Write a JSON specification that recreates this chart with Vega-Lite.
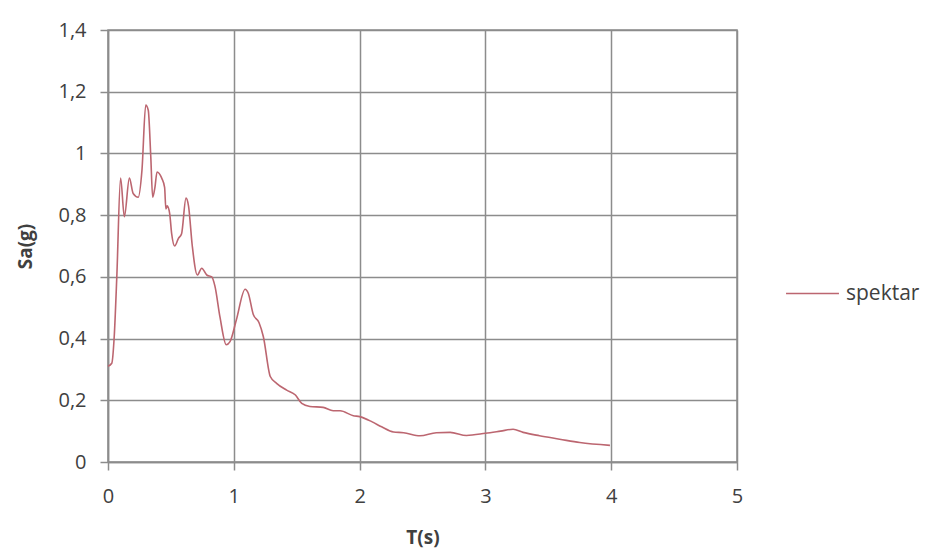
{
  "$schema": "https://vega.github.io/schema/vega-lite/v6.json",
  "width": 629,
  "height": 432,
  "autosize": "none",
  "padding": {"left": 108, "top": 30, "right": 198, "bottom": 97},
  "background": "white",
  "data": {
    "values": [
      {"T": 0.0, "Sa": 0.31},
      {"T": 0.03, "Sa": 0.32},
      {"T": 0.05, "Sa": 0.41},
      {"T": 0.07, "Sa": 0.6},
      {"T": 0.1, "Sa": 0.92},
      {"T": 0.13, "Sa": 0.795},
      {"T": 0.17, "Sa": 0.92},
      {"T": 0.2, "Sa": 0.87},
      {"T": 0.24, "Sa": 0.858},
      {"T": 0.27, "Sa": 0.946},
      {"T": 0.3, "Sa": 1.157},
      {"T": 0.32, "Sa": 1.14},
      {"T": 0.34, "Sa": 0.99},
      {"T": 0.355, "Sa": 0.858},
      {"T": 0.373, "Sa": 0.89},
      {"T": 0.39, "Sa": 0.94},
      {"T": 0.427, "Sa": 0.92},
      {"T": 0.45, "Sa": 0.89},
      {"T": 0.46, "Sa": 0.82},
      {"T": 0.47, "Sa": 0.83},
      {"T": 0.49, "Sa": 0.806},
      {"T": 0.506, "Sa": 0.74},
      {"T": 0.53, "Sa": 0.7},
      {"T": 0.56, "Sa": 0.725},
      {"T": 0.585, "Sa": 0.74},
      {"T": 0.62, "Sa": 0.855},
      {"T": 0.64, "Sa": 0.83},
      {"T": 0.67, "Sa": 0.7},
      {"T": 0.71, "Sa": 0.606},
      {"T": 0.745, "Sa": 0.628},
      {"T": 0.785, "Sa": 0.606},
      {"T": 0.825, "Sa": 0.6},
      {"T": 0.85, "Sa": 0.57},
      {"T": 0.89, "Sa": 0.47},
      {"T": 0.94, "Sa": 0.38},
      {"T": 0.97, "Sa": 0.39},
      {"T": 1.02, "Sa": 0.46},
      {"T": 1.09, "Sa": 0.56},
      {"T": 1.115, "Sa": 0.547},
      {"T": 1.155, "Sa": 0.478},
      {"T": 1.2, "Sa": 0.452},
      {"T": 1.235, "Sa": 0.406},
      {"T": 1.29, "Sa": 0.277},
      {"T": 1.34, "Sa": 0.255},
      {"T": 1.42, "Sa": 0.233},
      {"T": 1.49, "Sa": 0.217},
      {"T": 1.54, "Sa": 0.19},
      {"T": 1.605, "Sa": 0.18},
      {"T": 1.71, "Sa": 0.177},
      {"T": 1.79, "Sa": 0.166},
      {"T": 1.845, "Sa": 0.166},
      {"T": 1.95, "Sa": 0.15},
      {"T": 2.0, "Sa": 0.147},
      {"T": 2.1, "Sa": 0.13},
      {"T": 2.175, "Sa": 0.114},
      {"T": 2.27, "Sa": 0.097},
      {"T": 2.35, "Sa": 0.095},
      {"T": 2.48, "Sa": 0.085},
      {"T": 2.61, "Sa": 0.095},
      {"T": 2.72, "Sa": 0.096},
      {"T": 2.85, "Sa": 0.086},
      {"T": 3.0, "Sa": 0.093},
      {"T": 3.12, "Sa": 0.1},
      {"T": 3.22, "Sa": 0.106},
      {"T": 3.3, "Sa": 0.096},
      {"T": 3.43, "Sa": 0.085},
      {"T": 3.59, "Sa": 0.074},
      {"T": 3.75, "Sa": 0.063},
      {"T": 3.99, "Sa": 0.054}
    ]
  },
  "mark": {"type": "line", "interpolate": "monotone", "strokeWidth": 1.6},
  "encoding": {
    "x": {
      "field": "T",
      "type": "quantitative",
      "scale": {"domain": [0, 5], "nice": false, "zero": false},
      "axis": {
        "title": "T(s)",
        "values": [0, 1, 2, 3, 4, 5],
        "format": "~g",
        "grid": true,
        "labelFlush": false,
        "tickSize": 8,
        "labelPadding": 16,
        "titlePadding": 22
      }
    },
    "y": {
      "field": "Sa",
      "type": "quantitative",
      "scale": {"domain": [0, 1.4], "nice": false},
      "axis": {
        "title": "Sa(g)",
        "values": [0, 0.2, 0.4, 0.6, 0.8, 1.0, 1.2, 1.4],
        "format": ".1~f",
        "labelExpr": "replace(datum.label, '.', ',')",
        "grid": true,
        "labelFlush": false,
        "tickSize": 8,
        "labelPadding": 14,
        "titlePadding": 22
      }
    },
    "color": {
      "datum": "spektar",
      "type": "nominal",
      "scale": {"range": ["#bc6670"]},
      "legend": {
        "title": null,
        "orient": "none",
        "legendX": 677,
        "legendY": 236,
        "symbolType": "stroke",
        "symbolSize": 2800,
        "symbolStrokeWidth": 1.6,
        "labelFontSize": 21,
        "labelColor": "#404040",
        "labelFont": "Open Sans",
        "labelOffset": 6
      }
    }
  },
  "config": {
    "view": {"stroke": "#8c8c8c", "strokeWidth": 1.5},
    "axis": {
      "labelFont": "Open Sans",
      "labelFontSize": 20,
      "labelColor": "#404040",
      "titleFont": "Open Sans",
      "titleFontSize": 19,
      "titleFontWeight": "bold",
      "titleColor": "#404040",
      "gridColor": "#8c8c8c",
      "gridWidth": 1.5,
      "gridOpacity": 1,
      "domainColor": "#8c8c8c",
      "domainWidth": 1.5,
      "tickColor": "#8c8c8c",
      "tickWidth": 1.5
    }
  }
}
